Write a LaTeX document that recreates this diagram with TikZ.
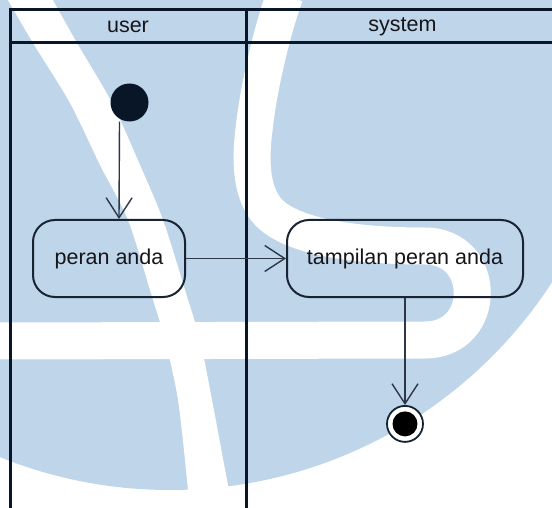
\documentclass[tikz,border=0pt]{standalone}
\usepackage{fontspec}
\setmainfont{Liberation Sans}
\usetikzlibrary{arrows.meta, positioning, backgrounds}
\definecolor{lanenavy}{RGB}{8,22,40}
\definecolor{boxnavy}{RGB}{24,36,52}
\definecolor{flowgray}{RGB}{45,55,70}
\definecolor{markblue}{RGB}{191,213,234}
\definecolor{inktext}{RGB}{22,22,26}
\tikzset{
    laneline/.style={draw=lanenavy, line width=3pt},
    lanelabel/.style={font=\fontsize{21.5}{25}\selectfont, text=inktext, inner sep=0pt},
    actbox/.style={rectangle, draw=boxnavy, rounded corners=22pt, minimum height=77pt, line width=2pt, font=\fontsize{21.5}{25}\selectfont, text=inktext, inner sep=0pt},
    initdot/.style={circle, fill=lanenavy, minimum size=38pt, inner sep=0pt},
    finaldot/.style={circle, draw=boxnavy, fill=white, line width=1.8pt, minimum size=36pt, inner sep=0pt, path picture={\fill[black] (path picture bounding box.center) circle (12.5pt);}},
    flowarrow/.style={-{Straight Barb[length=20pt, width=26pt]}, draw=flowgray, line width=1.4pt},
    markband/.style={draw=white, line width=37pt}
}

\begin{document}
\begin{tikzpicture}[x=1pt, y=-1pt]
\useasboundingbox (0,0) rectangle (552,508);

\node[initdot] (start) at (129.5,102.5) {};
\node[actbox, minimum width=152pt] (peran) at (109,258.5) {peran anda};
\node[actbox, minimum width=236pt, right=100pt of peran] (tampil) {tampilan peran anda};
\node[finaldot, below=107pt of tampil] (stop) {};

\node[lanelabel] (userhead) at (128,27) {user};
\node[lanelabel] (systemhead) at (402.5,27) {system};
\draw[laneline] (552,10) -- (10.5,10) -- (10.5,508);
\draw[laneline] (10.5,43) -- (552,43);
\draw[laneline] (246,10) -- (246,508);

\draw[flowarrow] ([xshift=-10pt]start.south) -- ([xshift=10pt]peran.north);
\draw[flowarrow] (peran) -- (tampil);
\draw[flowarrow] (tampil) -- (stop);

\begin{scope}[on background layer]
    \clip (0,0) rectangle (552,508);
    \fill[white] (0,0) rectangle (552,508);
    \fill[markblue] (170,35) circle [radius=455pt];
    \fill[white] plot[smooth] coordinates {(5,-5) (33,43) (70,103) (100,165) (128,220) (150,290) (165,340) (178,400) (187,480) (190,515)}
        -- plot[smooth] coordinates {(234,515) (227,480) (212,400) (200,340) (185,290) (163,220) (140,165) (112,103) (77,43) (50,-5)} -- cycle;
    \draw[markband] (-5,341) -- (425,340) .. controls (488,340) and (488,246) .. (425,246) .. controls (350,246) and (300,236) .. (275,218) .. controls (250,200) and (250,160) .. (254,130) .. controls (258,90) and (272,30) .. (285,-5);
\end{scope}

\end{tikzpicture}
\end{document}
